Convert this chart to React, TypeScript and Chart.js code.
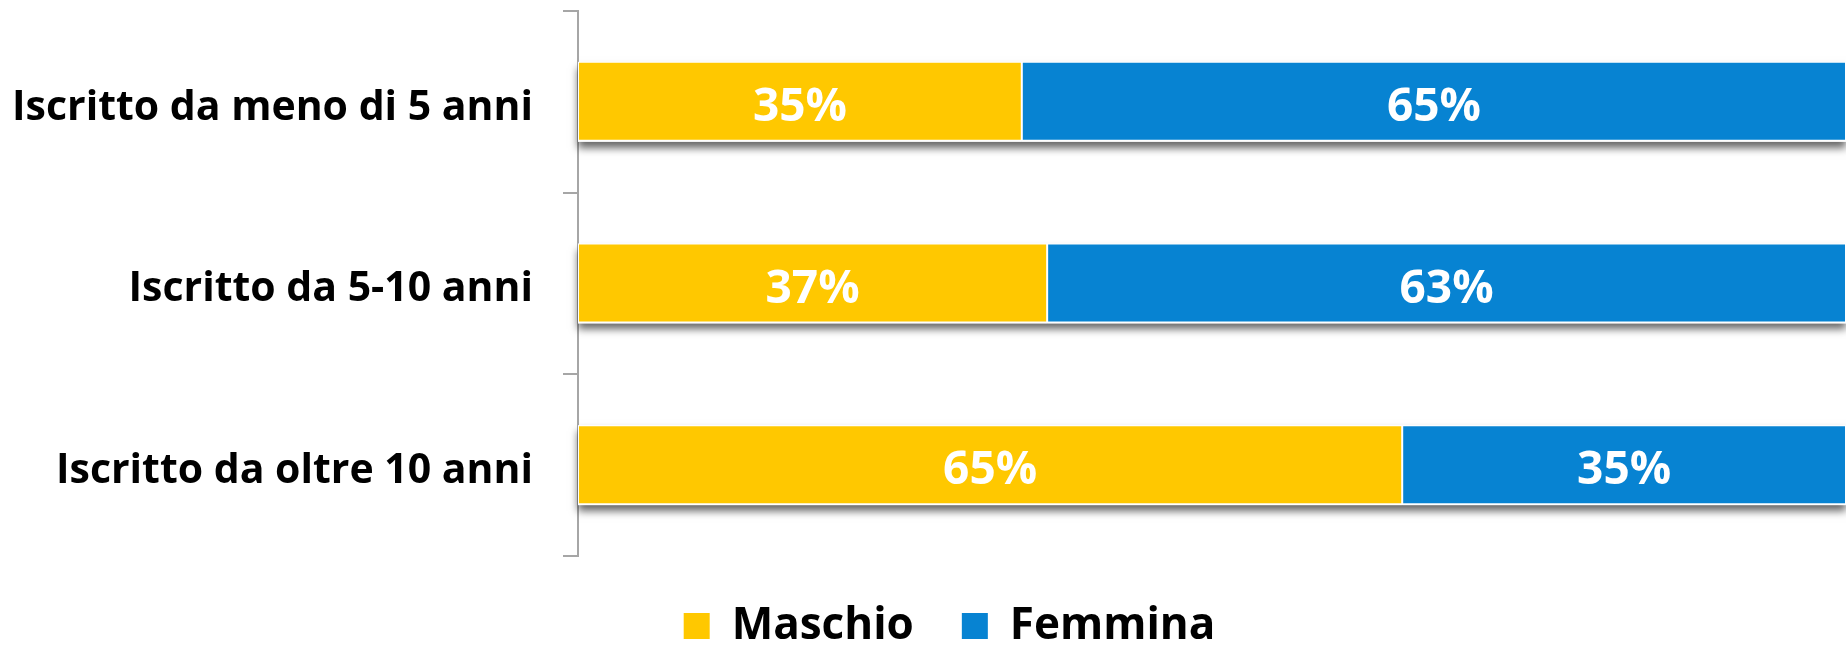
import { useEffect, useRef } from "react";
import { Chart, registerables } from "chart.js";

Chart.register(...registerables);

const categories = [
  "Iscritto da meno di 5 anni",
  "Iscritto da 5-10 anni",
  "Iscritto da oltre 10 anni",
];
const maschio = [35, 37, 65];
const femmina = [65, 63, 35];
const seriesNames = ["Maschio", "Femmina"];
const seriesColors = ["#FFC800", "#0783D2"];

const FONT = "'Open Sans', 'DejaVu Sans', sans-serif";

const barDecor = {
  id: "barDecor",
  afterLayout(chart: any) {
    const lg = chart.legend;
    if (lg) {
      lg.left += 23;
      lg.right += 23;
    }
  },
  beforeDatasetsDraw(chart: any) {
    const ctx = chart.ctx;
    const metas = chart.data.datasets.map((_: any, i: number) => chart.getDatasetMeta(i));
    ctx.save();
    ctx.shadowColor = "rgba(0,0,0,0.6)";
    ctx.shadowBlur = 8;
    ctx.shadowOffsetY = 6;
    ctx.fillStyle = "#ffffff";
    categories.forEach((_, idx) => {
      let left = Infinity;
      let right = -Infinity;
      let top = 0;
      let h = 0;
      metas.forEach((m: any) => {
        const el = m.data[idx];
        if (!el) return;
        const p = el.getProps(["x", "y", "base", "height"], true);
        left = Math.min(left, p.base, p.x);
        right = Math.max(right, p.base, p.x);
        top = p.y - p.height / 2;
        h = p.height;
      });
      ctx.fillRect(left, top, right - left, h);
    });
    ctx.restore();
  },
  afterDatasetsDraw(chart: any) {
    const ctx = chart.ctx;
    ctx.save();
    ctx.fillStyle = "#ffffff";
    ctx.font = `bold 46px ${FONT}`;
    ctx.textAlign = "center";
    ctx.textBaseline = "middle";
    chart.data.datasets.forEach((ds: any, i: number) => {
      const meta = chart.getDatasetMeta(i);
      meta.data.forEach((el: any, idx: number) => {
        const p = el.getProps(["x", "y", "base"], true);
        const cx = (p.x + p.base) / 2;
        ctx.fillText(`${ds.data[idx]}%`, cx, p.y + 6);
      });
    });
    ctx.restore();
  },
};

export default function App() {
  const canvasRef = useRef<HTMLCanvasElement | null>(null);

  useEffect(() => {
    if (!canvasRef.current) return;
    const chart = new Chart(canvasRef.current, {
      type: "bar",
      data: {
        labels: categories,
        datasets: [
          {
            label: seriesNames[0],
            data: maschio,
            backgroundColor: seriesColors[0],
            borderColor: "rgba(255,255,255,0.9)",
            borderWidth: { top: 1, bottom: 2, left: 1, right: 1 },
            borderSkipped: false,
          },
          {
            label: seriesNames[1],
            data: femmina,
            backgroundColor: seriesColors[1],
            borderColor: "rgba(255,255,255,0.9)",
            borderWidth: { top: 1, bottom: 2, left: 1, right: 1 },
            borderSkipped: false,
          },
        ],
      },
      options: {
        indexAxis: "y",
        responsive: false,
        animation: false,
        datasets: {
          bar: { categoryPercentage: 0.44, barPercentage: 1 },
        },
        layout: { padding: { top: 11, bottom: -9, left: 0, right: -7 } },
        scales: {
          x: { stacked: true, display: false, min: 0, max: 100 },
          y: {
            stacked: true,
            grid: {
              drawOnChartArea: false,
              drawTicks: true,
              tickLength: 15,
              color: "#A6A6A6",
              lineWidth: 2,
            },
            border: { display: true, color: "#A6A6A6", width: 2 },
            ticks: {
              color: "#000000",
              padding: 30,
              labelOffset: 6,
              font: { family: FONT, size: 41, weight: "bold" },
            },
            afterFit(scale: any) {
              scale.width = 578;
              scale.paddingTop = 0;
              scale.paddingBottom = 0;
            },
          },
        },
        plugins: {
          legend: {
            display: true,
            position: "bottom",
            labels: {
              boxWidth: 26,
              boxHeight: 26,
              padding: 48,
              color: "#000000",
              font: { family: FONT, size: 44, weight: "bold" },
              generateLabels(c: any) {
                return Chart.defaults.plugins.legend.labels
                  .generateLabels(c)
                  .map((l: any) => ({ ...l, lineWidth: 0, strokeStyle: "rgba(0,0,0,0)" }));
              },
            },
          },
          tooltip: { enabled: false },
        },
      },
      plugins: [barDecor],
    });
    return () => chart.destroy();
  }, []);

  return (
    <div style={{ position: "absolute", left: 0, top: 0, width: 1846, height: 649 }}>
      <canvas ref={canvasRef} width={1846} height={649} />
    </div>
  );
}
